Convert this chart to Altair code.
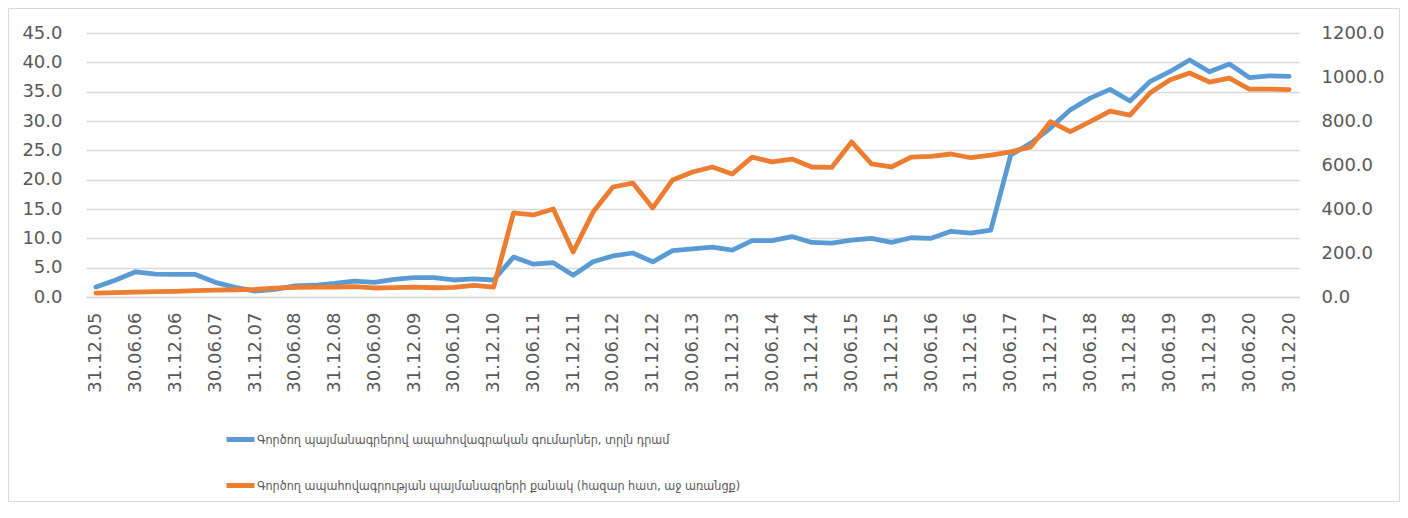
import altair as alt
import pandas as pd

# Quarter-end dates (x categories)
quarters = ["31.12.05"]
for yy in range(6, 21):
    for dm in ["31.03", "30.06", "30.09", "31.12"]:
        quarters.append(f"{dm}.{yy:02d}")
quarters[-1] = "30.12.20"

tick_labels = quarters[::2]

series_names = [
    "Գործող պայմանագրերով ապահովագրական գումարներ, տրլն դրամ",
    "Գործող ապահովագրության պայմանագրերի քանակ (հազար հատ, աջ առանցք)",
]
colors = ["#5B9BD5", "#ED7D31"]

# Insured amounts, trillion AMD (left axis)
amounts = [1.7, 2.9, 4.3, 3.9, 3.85, 3.85, 2.5, 1.65, 1.0, 1.3,
           1.9, 2.0, 2.3, 2.7, 2.5, 3.0, 3.3, 3.3, 2.9, 3.1,
           2.9, 6.8, 5.6, 5.85, 3.7, 6.0, 7.0, 7.5, 6.0, 7.9,
           8.2, 8.5, 8.0, 9.6, 9.6, 10.3, 9.3, 9.2, 9.7, 10.0,
           9.3, 10.1, 10.0, 11.2, 10.9, 11.4, 24.2, 26.2, 28.8, 31.9,
           33.9, 35.4, 33.4, 36.7, 38.4, 40.4, 38.4, 39.7, 37.4, 37.7,
           37.6]

# Number of contracts, thousand (right axis)
contracts = [18, 20, 22, 24, 26, 29, 31, 33, 35, 40,
             44, 45, 45, 47, 41, 43, 45, 42, 44, 53,
             45, 382, 373, 400, 205, 386, 500, 518, 405, 532,
             568, 591, 559, 636, 614, 627, 591, 589, 705, 605,
             591, 636, 639, 650, 633, 645, 660, 682, 797, 752,
             797, 845, 827, 927, 986, 1018, 977, 995, 945, 945,
             943]

rows = []
for q, a, c in zip(quarters, amounts, contracts):
    rows.append({"quarter": q, "series": series_names[0], "value": a})
    rows.append({"quarter": q, "series": series_names[1], "value": c})
df = pd.DataFrame(rows)

label_color = "#595959"
grid_color = "#d9d9d9"
font = "DejaVu Sans"
legend_font = "DejaVu Sans Condensed, DejaVu Sans"

x_enc = alt.X(
    "quarter:N",
    sort=quarters,
    scale=alt.Scale(domain=quarters),
    axis=alt.Axis(
        values=tick_labels,
        title=None,
        labelAngle=270,
        labelAlign="right",
        labelBaseline="middle",
        labelPadding=15,
        ticks=False,
        domain=True,
        domainColor=grid_color,
        domainWidth=1.5,
        grid=False,
        labelFont=font,
        labelFontSize=18,
        labelColor=label_color,
    ),
)

color_enc = alt.Color(
    "series:N",
    scale=alt.Scale(domain=series_names, range=colors),
    legend=alt.Legend(
        title=None,
        orient="none",
        legendX=138,
        legendY=390,
        direction="vertical",
        symbolType="stroke",
        symbolSize=784,
        symbolStrokeWidth=5,
        labelFont=legend_font,
        labelFontSize=12.5,
        labelColor=label_color,
        labelLimit=0,
        rowPadding=19,
        labelOffset=0,
        padding=0,
    ),
)

base = alt.Chart(df).encode(x=x_enc, color=color_enc)

left = base.transform_filter(alt.datum.series == series_names[0]).mark_line(
    strokeWidth=4.8, strokeCap="round", strokeJoin="round"
).encode(
    y=alt.Y(
        "value:Q",
        scale=alt.Scale(domain=[0, 45], nice=False),
        axis=alt.Axis(
            orient="left",
            values=list(range(0, 50, 5)),
            format=".1f",
            title=None,
            grid=True,
            gridColor=grid_color,
            gridWidth=1.5,
            ticks=False,
            domain=False,
            labelPadding=24,
            labelFont=font,
            labelFontSize=18,
            labelColor=label_color,
        ),
    )
)

right = base.transform_filter(alt.datum.series == series_names[1]).mark_line(
    strokeWidth=4.8, strokeCap="round", strokeJoin="round"
).encode(
    y=alt.Y(
        "value:Q",
        scale=alt.Scale(domain=[0, 1200], nice=False),
        axis=alt.Axis(
            orient="right",
            values=list(range(0, 1400, 200)),
            format=".1f",
            title=None,
            grid=False,
            ticks=False,
            domain=False,
            labelPadding=22,
            labelFont=font,
            labelFontSize=18,
            labelColor=label_color,
        ),
    )
)

border = alt.Chart(pd.DataFrame({"b": [0]})).mark_rect(
    fillOpacity=0, stroke=grid_color, strokeWidth=1
).encode(
    x=alt.value(-77.5), x2=alt.value(1313.5),
    y=alt.value(-24.5), y2=alt.value(468.5),
)

chart = alt.layer(border, left, right).resolve_scale(y="independent").properties(
    width=1213,
    height=264,
    autosize="none",
    padding={"left": 78, "top": 25, "right": 101, "bottom": 205},
).configure_view(stroke=None)

chart.save("out.html", embed_options={"renderer": "svg", "actions": False})
